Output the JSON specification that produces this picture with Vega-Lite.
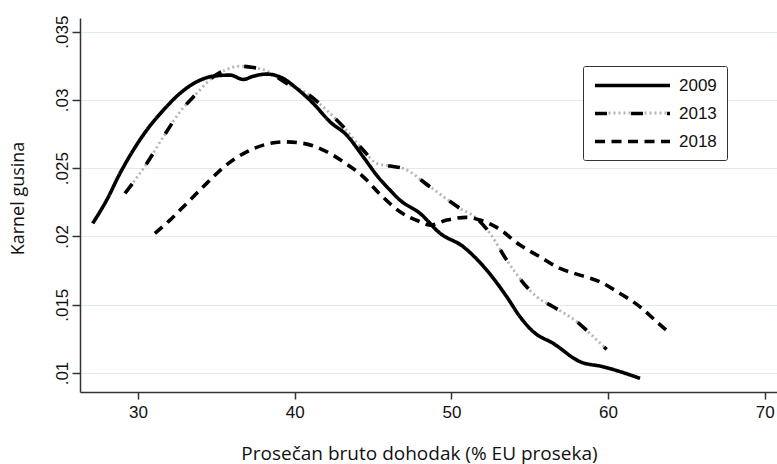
{
  "$schema": "https://vega.github.io/schema/vega-lite/v6.json",
  "width": 697,
  "height": 374,
  "autosize": {"type": "none"},
  "padding": {"left": 80, "top": 18, "right": 0, "bottom": 72},
  "background": "white",
  "config": {"view": {"stroke": null}},
  "datasets": {
    "curves": [
      {"year": "2009", "x": 27.11, "y": 0.02096},
      {"year": "2009", "x": 28.0, "y": 0.02266},
      {"year": "2009", "x": 28.85, "y": 0.02462},
      {"year": "2009", "x": 29.7, "y": 0.02632},
      {"year": "2009", "x": 30.56, "y": 0.02779},
      {"year": "2009", "x": 31.62, "y": 0.02925},
      {"year": "2009", "x": 32.68, "y": 0.03048},
      {"year": "2009", "x": 33.75, "y": 0.03133},
      {"year": "2009", "x": 34.81, "y": 0.03174},
      {"year": "2009", "x": 35.87, "y": 0.03182},
      {"year": "2009", "x": 36.72, "y": 0.0315},
      {"year": "2009", "x": 37.36, "y": 0.03174},
      {"year": "2009", "x": 38.21, "y": 0.03189},
      {"year": "2009", "x": 39.27, "y": 0.03157},
      {"year": "2009", "x": 40.13, "y": 0.03084},
      {"year": "2009", "x": 41.19, "y": 0.02974},
      {"year": "2009", "x": 42.25, "y": 0.0284},
      {"year": "2009", "x": 43.32, "y": 0.02742},
      {"year": "2009", "x": 44.38, "y": 0.02583},
      {"year": "2009", "x": 45.23, "y": 0.02449},
      {"year": "2009", "x": 46.08, "y": 0.0234},
      {"year": "2009", "x": 46.72, "y": 0.02266},
      {"year": "2009", "x": 48.0, "y": 0.02169},
      {"year": "2009", "x": 49.28, "y": 0.02023},
      {"year": "2009", "x": 50.76, "y": 0.01925},
      {"year": "2009", "x": 52.25, "y": 0.01754},
      {"year": "2009", "x": 53.53, "y": 0.01559},
      {"year": "2009", "x": 54.38, "y": 0.01412},
      {"year": "2009", "x": 55.23, "y": 0.01302},
      {"year": "2009", "x": 56.5, "y": 0.01217},
      {"year": "2009", "x": 58.21, "y": 0.01083},
      {"year": "2009", "x": 59.69, "y": 0.01046},
      {"year": "2009", "x": 62.04, "y": 0.00961},
      {"year": "2013", "x": 29.17, "y": 0.02316},
      {"year": "2013", "x": 30.56, "y": 0.02535},
      {"year": "2013", "x": 31.62, "y": 0.0273},
      {"year": "2013", "x": 32.68, "y": 0.02913},
      {"year": "2013", "x": 33.75, "y": 0.03048},
      {"year": "2013", "x": 34.81, "y": 0.03169},
      {"year": "2013", "x": 35.66, "y": 0.03223},
      {"year": "2013", "x": 36.51, "y": 0.03247},
      {"year": "2013", "x": 37.36, "y": 0.03238},
      {"year": "2013", "x": 38.21, "y": 0.03213},
      {"year": "2013", "x": 39.49, "y": 0.03121},
      {"year": "2013", "x": 40.77, "y": 0.03048},
      {"year": "2013", "x": 42.04, "y": 0.02925},
      {"year": "2013", "x": 43.1, "y": 0.02803},
      {"year": "2013", "x": 44.38, "y": 0.02632},
      {"year": "2013", "x": 45.23, "y": 0.02535},
      {"year": "2013", "x": 46.08, "y": 0.02516},
      {"year": "2013", "x": 46.93, "y": 0.02498},
      {"year": "2013", "x": 48.63, "y": 0.02364},
      {"year": "2013", "x": 50.55, "y": 0.02206},
      {"year": "2013", "x": 51.61, "y": 0.02133},
      {"year": "2013", "x": 52.46, "y": 0.02023},
      {"year": "2013", "x": 53.53, "y": 0.01827},
      {"year": "2013", "x": 54.8, "y": 0.01632},
      {"year": "2013", "x": 55.44, "y": 0.01558},
      {"year": "2013", "x": 56.5, "y": 0.01485},
      {"year": "2013", "x": 58.0, "y": 0.01376},
      {"year": "2013", "x": 59.06, "y": 0.01266},
      {"year": "2013", "x": 59.91, "y": 0.01173},
      {"year": "2018", "x": 31.08, "y": 0.02023},
      {"year": "2018", "x": 32.04, "y": 0.0212},
      {"year": "2018", "x": 33.11, "y": 0.02242},
      {"year": "2018", "x": 34.38, "y": 0.02389},
      {"year": "2018", "x": 35.44, "y": 0.02505},
      {"year": "2018", "x": 36.94, "y": 0.0262},
      {"year": "2018", "x": 38.0, "y": 0.02669},
      {"year": "2018", "x": 39.27, "y": 0.02693},
      {"year": "2018", "x": 40.55, "y": 0.02682},
      {"year": "2018", "x": 41.83, "y": 0.02633},
      {"year": "2018", "x": 43.1, "y": 0.02547},
      {"year": "2018", "x": 44.38, "y": 0.02437},
      {"year": "2018", "x": 45.44, "y": 0.0231},
      {"year": "2018", "x": 46.72, "y": 0.02181},
      {"year": "2018", "x": 48.0, "y": 0.02108},
      {"year": "2018", "x": 48.63, "y": 0.02083},
      {"year": "2018", "x": 49.7, "y": 0.0212},
      {"year": "2018", "x": 50.98, "y": 0.0214},
      {"year": "2018", "x": 51.82, "y": 0.0212},
      {"year": "2018", "x": 52.89, "y": 0.02067},
      {"year": "2018", "x": 54.38, "y": 0.01937},
      {"year": "2018", "x": 55.65, "y": 0.01851},
      {"year": "2018", "x": 56.93, "y": 0.01766},
      {"year": "2018", "x": 58.21, "y": 0.01717},
      {"year": "2018", "x": 59.48, "y": 0.01668},
      {"year": "2018", "x": 60.76, "y": 0.01583},
      {"year": "2018", "x": 62.04, "y": 0.01485},
      {"year": "2018", "x": 63.1, "y": 0.01376},
      {"year": "2018", "x": 63.95, "y": 0.0129}
    ]
  },
  "data": {"name": "curves"},
  "encoding": {
    "x": {
      "field": "x",
      "type": "quantitative",
      "scale": {"domain": [26.3, 70.78], "nice": false, "zero": false},
      "axis": {
        "values": [30, 40, 50, 60, 70],
        "title": "Prosečan bruto dohodak (% EU proseka)",
        "grid": false,
        "tickSize": 7,
        "tickWidth": 1.5,
        "tickColor": "#333",
        "domainColor": "#333",
        "domainWidth": 1.5,
        "labelPadding": 5,
        "labelFont": "Liberation Sans",
        "labelFontSize": 17,
        "labelColor": "#111",
        "labelFlush": false,
        "titleFont": "Open Sans",
        "titleFontSize": 19,
        "titleFontWeight": "normal",
        "titleColor": "#111",
        "titleX": 339,
        "titleY": 61,
        "titleAlign": "center",
        "titleBaseline": "middle"
      }
    },
    "y": {
      "field": "y",
      "type": "quantitative",
      "scale": {"domain": [0.00861, 0.036], "nice": false, "zero": false},
      "axis": {
        "values": [0.01, 0.015, 0.02, 0.025, 0.03, 0.035],
        "labelExpr": "replace(format(datum.value, '.3~f'), '0.', '.')",
        "title": "Karnel gusina",
        "grid": true,
        "gridColor": "#e0ebeb",
        "gridWidth": 1,
        "tickSize": 8,
        "tickWidth": 1.5,
        "tickColor": "#333",
        "domainColor": "#333",
        "domainWidth": 1.5,
        "labelAngle": 270,
        "labelAlign": "center",
        "labelBaseline": "bottom",
        "labelPadding": 1,
        "labelFont": "Liberation Sans",
        "labelFontSize": 17,
        "labelColor": "#111",
        "labelFlush": false,
        "titleFont": "Open Sans",
        "titleFontSize": 18,
        "titleFontWeight": "normal",
        "titleColor": "#111",
        "titleAngle": 270,
        "titleX": -62,
        "titleY": 180,
        "titleAlign": "center",
        "titleBaseline": "middle"
      }
    }
  },
  "layer": [
    {
      "transform": [{"filter": "datum.year === '2013'"}],
      "mark": {
        "type": "line",
        "stroke": "#b4b4b4",
        "strokeWidth": 2.8,
        "strokeDash": [0, 14, 2, 3, 2, 3, 2, 3, 2, 3, 2, 0],
        "interpolate": "monotone"
      },
      "encoding": {
        "opacity": {
          "field": "year",
          "type": "ordinal",
          "scale": {"range": [1, 1]},
          "legend": {
            "orient": "none",
            "legendX": 503,
            "legendY": 76,
            "zindex": 2,
            "title": null,
            "padding": 10,
            "symbolType": "M-1,0H9",
            "symbolSize": 225,
            "symbolStrokeWidth": 2.8,
            "symbolStrokeColor": "#b4b4b4",
            "symbolFillColor": "transparent",
            "symbolDash": [0, 14, 2, 3, 2, 3, 2, 3, 2, 3, 2, 0],
            "labelExpr": "''",
            "labelFontSize": 17
          }
        }
      }
    },
    {
      "mark": {
        "type": "line",
        "stroke": "#000",
        "strokeWidth": 3.6,
        "interpolate": "monotone"
      },
      "encoding": {
        "strokeDash": {
          "field": "year",
          "type": "nominal",
          "scale": {
            "domain": ["2009", "2013", "2018"],
            "range": [[1, 0], [12, 24], [10, 6.5]]
          },
          "legend": {
            "orient": "none",
            "legendX": 503,
            "legendY": 48,
            "zindex": 1,
            "title": null,
            "padding": 10,
            "strokeColor": "#333",
            "fillColor": "white",
            "cornerRadius": 2,
            "symbolType": "M-1,0H9",
            "symbolSize": 225,
            "symbolStrokeWidth": 3.6,
            "symbolStrokeColor": "#000",
            "symbolFillColor": "transparent",
            "labelFont": "Liberation Sans",
            "labelFontSize": 17,
            "labelColor": "#111",
            "labelOffset": 67,
            "rowPadding": 10
          }
        }
      }
    }
  ]
}
